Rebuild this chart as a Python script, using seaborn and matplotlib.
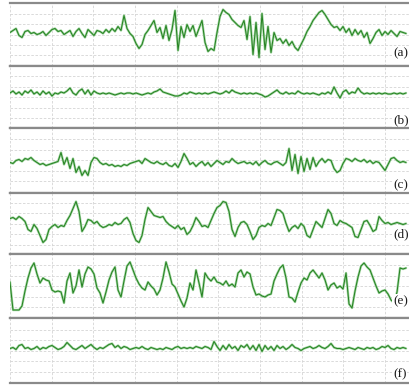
import matplotlib
matplotlib.use("Agg")
import matplotlib.pyplot as plt
import numpy as np
import pandas as pd
import seaborn as sns

# ---- data (amplitude readings, one every sample) ----
panel_labels = ["(a)", "(b)", "(c)", "(d)", "(e)", "(f)"]

sig_a = [2, 4, 6, -1, -3, 3, 4, 1, 2, 0,
         1, 3, -1, 2, 5, 6, 3, 4, 0, 2,
         4, -2, 3, 6, 1, -3, 5, 2, -1, 4,
         3, 1, 5, 2, 6, 3, 8, 4, 19, 6,
         1, -2, -9, -14, -10, 0, 4, 9, 14, 2,
         7, -4, 9, -6, 5, 24, -16, 8, -3, 10,
         3, 9, -2, 6, 14, -8, -17, -14, -16, 2,
         18, 25, 22, 20, 15, 12, 9, 7, 14, -5,
         18, -20, 12, -23, 21, -15, 8, -18, 2, -6,
         -4, -9, -5, -11, -7, -13, -16, -10, -4, 3,
         8, 14, 18, 22, 24, 20, 15, 10, 7, 8,
         4, 8, 2, 6, -1, 5, 0, 4, -3, 2,
         -9, -4, 2, 5, -1, 3, 0, 4, 1, -2, 3, 2, 1]

sig_b = [4, 6, 3, 5, 2, 6, 4, 7, 3, 5,
         2, 6, 3, 5, 1, 4, 3, 5, 4, 6,
         9, 4, 2, 6, 8, 3, 7, 2, 6, 4,
         3, 4, 3, 4, 3, 2, 3, 4, 3, 4,
         4, 3, 4, 3, 2, 3, 4, 3, 5, 6,
         8, 5, 4, 3, 2, 1, 1, 2, 4, 3,
         5, 4, 3, 4, 3, 4, 3, 4, 5, 4,
         3, 4, 6, 4, 7, 5, 4, 3, 4, 3,
         4, 3, 4, 3, 2, 0, 1, 3, 5, 7,
         4, 3, 5, 3, 4, 3, 6, 4, 3, 4,
         3, 4, 3, 2, 4, 3, 5, 3, 10, 4,
         -1, 5, 7, 3, 5, 4, 9, 5, 3, 4,
         3, 4, 3, 4, 3, 4, 3, 3, 4, 3, 4, 3, 4]

sig_c = [-2, -3, 0, 1, -1, 2, 1, 3, 0, -2,
         -4, -3, -5, -4, -3, -2, -1, 8, -4, 3,
         -8, 2, -12, -6, -15, -10, -15, -2, 3, 2,
         -2, -4, -3, -5, -4, -6, -5, -6, -4, -5,
         -3, -2, -1, 0, -3, 2, 0, -2, -3, -1,
         -3, -4, -2, -5, -6, -3, -7, -1, 7, 2,
         -4, -2, -6, -3, -1, -5, -2, -6, -3, 0,
         -2, -4, -1, -2, 2, -1, -3, -2, -1, -3,
         -2, -4, -1, -5, -2, 0, -3, -4, -2, -1,
         -3, -5, -2, 12, -10, 6, -13, 4, -11, 2,
         -9, 3, -6, -1, 2, -2, 1, 0, -8, -12,
         -10, -3, 2, 1, -1, 2, 0, -1, 1, -2,
         0, -3, -1, -2, -6, -10, -4, 2, 3, 0, -2, -1, -2]

sig_d = [5, 6, 4, 7, 5, 2, -6, -8, -1, -5,
         -12, -19, -16, -6, -3, -1, -4, -2, -3, 3,
         8, 15, 22, 12, -8, -3, 4, 3, 0, 2,
         -2, -4, -3, -1, -2, 1, -1, 0, 4, 6,
         1, -10, -17, -19, -12, 4, 16, 12, 8, 7,
         6, 7, 2, -1, -3, -5, -2, -6, -4, -11,
         -8, -2, 6, 2, -3, -2, -4, 3, 10, 16,
         18, 22, 21, 12, -6, -13, -4, 1, 2, -1,
         -8, -16, -12, -4, -2, -3, 0, -2, 6, 14,
         13, 10, 0, -8, -4, -2, -5, 0, -3, -12,
         -14, -6, 2, -1, -4, 5, 14, 10, 0, -2,
         3, 1, 0, -2, -4, -13, -14, -6, 2, 3,
         -2, -8, -6, 7, 3, 0, 1, -1, 0, 1, 0, -1, 0]

sig_e = [4, -24, -24, -24, -20, -5, 8, 18, 23, 12,
         3, 8, 6, 5, -4, -6, -5, -6, -17, 5,
         13, -7, 0, 16, -1, 12, 19, 17, 12, -2,
         -7, -17, -6, 6, 14, 19, -4, -11, 5, 20,
         24, 16, 8, 2, -2, -4, 4, 0, -3, -9,
         -4, 8, 24, 14, 2, -1, -8, -15, -21, -12,
         3, -4, 16, 3, -11, 13, 8, 5, 9, 4,
         3, 1, 5, 0, 2, -1, 13, 16, 9, 14,
         12, -1, -9, -8, -10, -11, -9, -8, 5, 12,
         18, 21, 8, -11, -12, -16, -6, 3, 8, 6,
         13, 16, 12, 8, 13, 6, -4, 1, 3, -2,
         0, -3, 13, -18, -22, -5, 9, 20, 23, 19,
         16, 8, 0, -7, -5, -4, -8, -14, -17, -6, 18, 17, 18]

sig_f = [2, 3, 1, 5, 6, 2, 3, 1, 2, 4,
         1, 3, 2, 4, 5, 3, 1, 2, 4, 8,
         5, 2, 1, 3, 5, 2, 4, 6, 3, 1,
         3, 2, 4, 6, 7, 3, 5, 2, 4, 3,
         1, 2, 3, 2, 4, 2, 1, 3, 2, 1,
         2, 1, 3, 2, 1, 3, 4, 2, 3, 2,
         3, 2, 4, 3, 2, 4, 3, 1, 9, 4,
         0, 5, 1, 6, 2, 4, 0, 5, 3, 6,
         1, 5, 0, 6, -1, 5, 1, 4, 0, 5,
         2, 4, 1, 3, 6, 3, 2, 0, 2, 3,
         4, 2, 3, 5, 3, 2, 4, 7, 3, 2,
         2, 1, 2, 3, 2, 1, 3, 2, 1, 3,
         2, 3, 1, 2, 4, 3, 5, 2, 1, 3, 2, 3, 2]

signals = [sig_a, sig_b, sig_c, sig_d, sig_e, sig_f]
sample_step = 0.072   # seconds per sample; grid every 1 s

# ---- layout / style ----
W, H = 410, 385
bounds = [(3, 66), (66, 128), (128, 193), (193, 254), (254, 318), (318, 383)]
label_dy = [-19, -23, -25, -11, -15, -24]
x_left_px, px_per_sec = 10, 41.67
x_max = (W - x_left_px) / px_per_sec

sns.set_style("white")
fig = plt.figure(figsize=(W / 100, H / 100), dpi=100)

for sig, lab, (top, bot), ldy in zip(signals, panel_labels, bounds, label_dy):
    ax = fig.add_axes([x_left_px / W, 1 - bot / H, (W - x_left_px) / W, (bot - top) / H])
    df = pd.DataFrame({"t": np.arange(len(sig)) * sample_step, "v": sig})
    half = (bot - top) / 2
    ax.set_xlim(0, x_max)
    ax.set_ylim(-half, half)
    ax.set_xticks(np.arange(0, 10, 1))
    ax.set_yticks([-21, -10.5, 0, 10.5, 21])
    ax.grid(True, color="#d4d4d4", linestyle=(0, (3, 2)), linewidth=0.6)
    ax.set_axisbelow(True)
    ax.tick_params(left=False, bottom=False, labelleft=False, labelbottom=False)
    sns.lineplot(data=df, x="t", y="v", ax=ax, color="#9fd49f", linewidth=1.7)
    sns.lineplot(data=df, x="t", y="v", ax=ax, color="#23801f", linewidth=0.7)
    ax.set_xlabel("")
    ax.set_ylabel("")
    for s in ["left", "right"]:
        ax.spines[s].set_visible(False)
    for s in ["top", "bottom"]:
        ax.spines[s].set_color("#8a8a8a")
        ax.spines[s].set_linewidth(1.6)
    ax.text((393 - x_left_px) / px_per_sec, ldy, lab, ha="left", va="center",
            fontsize=9.5, family="Liberation Serif", color="#1a1a1a",
            bbox=dict(facecolor="white", edgecolor="none", pad=0.5))

fig.savefig("out.png", dpi=100)
